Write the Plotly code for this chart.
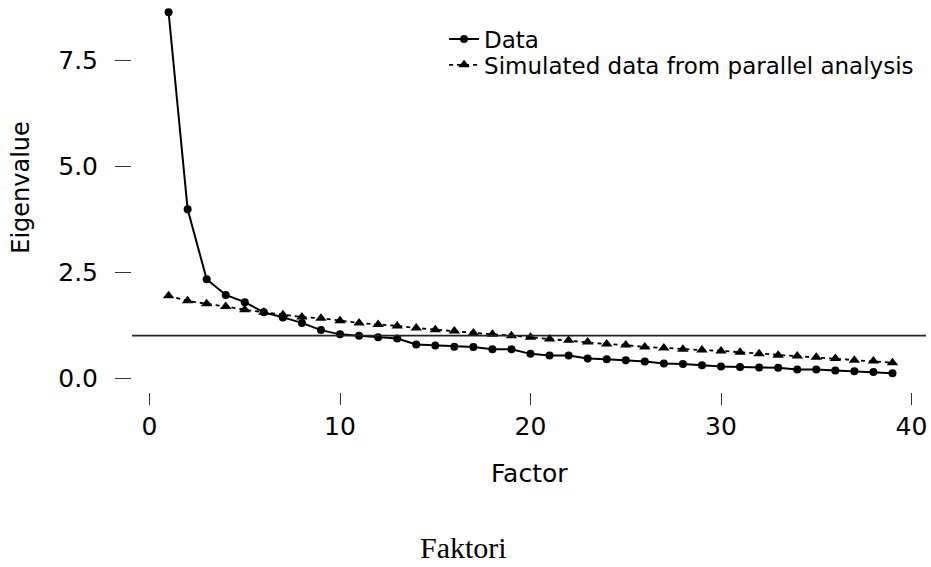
import plotly.graph_objects as go

factors = list(range(1, 40))
data_eigen = [8.63, 3.98, 2.33, 1.96, 1.79, 1.55, 1.43, 1.30, 1.13, 1.03,
              1.00, 0.96, 0.93, 0.79, 0.77, 0.74, 0.73, 0.68, 0.68, 0.57,
              0.53, 0.53, 0.46, 0.44, 0.42, 0.39, 0.34, 0.33, 0.30, 0.27,
              0.26, 0.25, 0.24, 0.20, 0.20, 0.18, 0.16, 0.14, 0.11]
sim_eigen = [1.94, 1.82, 1.75, 1.69, 1.61, 1.55, 1.49, 1.44, 1.41, 1.35,
             1.30, 1.26, 1.23, 1.18, 1.14, 1.11, 1.06, 1.03, 1.00, 0.96,
             0.92, 0.89, 0.85, 0.80, 0.78, 0.73, 0.71, 0.68, 0.66, 0.64,
             0.61, 0.57, 0.54, 0.52, 0.49, 0.46, 0.42, 0.40, 0.36]
kaiser_line = 1.0
x_ticks = [0, 10, 20, 30, 40]
y_ticks = [0.0, 2.5, 5.0, 7.5]
y_ticklabels = ["0.0", "2.5", "5.0", "7.5"]

FONT = "DejaVu Sans"

fig = go.Figure()
fig.add_trace(go.Scatter(
    x=factors, y=data_eigen, mode="lines+markers", name="Data",
    line=dict(color="black", width=2),
    marker=dict(symbol="circle", size=8, color="black"),
    cliponaxis=False, legend="legend",
))
fig.add_trace(go.Scatter(
    x=factors, y=sim_eigen, mode="lines+markers",
    name="Simulated data from parallel analysis",
    line=dict(color="black", width=1.8, dash="4px,4px"),
    marker=dict(symbol="triangle-up", size=10, color="black"),
    cliponaxis=False, legend="legend2",
))
fig.add_hline(y=kaiser_line, line=dict(color="#222222", width=1.8))

legend_common = dict(xanchor="left", yanchor="middle",
                     bgcolor="rgba(0,0,0,0)",
                     font=dict(size=23, family=FONT))

fig.update_layout(
    width=931, height=567,
    margin=dict(l=132, r=5, t=8, b=175),
    paper_bgcolor="white", plot_bgcolor="white",
    font=dict(family=FONT, color="black", size=25),
    showlegend=True,
    legend=dict(x=0.393, y=0.919, **legend_common),
    legend2=dict(x=0.393, y=0.852, **legend_common),
    xaxis=dict(range=[-0.92, 40.76], tickvals=x_ticks, showgrid=False,
               zeroline=False, showline=False, ticks="outside", ticklen=12,
               tickwidth=1.2, tickcolor="#333333",
               tickfont=dict(size=25, family=FONT)),
    yaxis=dict(range=[-0.33, 8.73], tickvals=y_ticks, ticktext=y_ticklabels,
               showgrid=False, zeroline=False, showline=False,
               ticks="outside", ticklen=16, tickwidth=1.2,
               ticklabelstandoff=12,
               tickcolor="#333333", tickfont=dict(size=25, family=FONT)),
    annotations=[
        dict(text="Eigenvalue", xref="paper", yref="paper", x=-0.14, y=0.534,
             xanchor="center", yanchor="middle", textangle=-90,
             showarrow=False, font=dict(size=24, family=FONT)),
        dict(text="Factor", xref="paper", yref="paper", x=0.501, y=-0.2135,
             xanchor="center", yanchor="middle", showarrow=False,
             font=dict(size=25, family=FONT)),
        dict(text="Faktori", xref="paper", yref="paper", x=0.417, y=-0.404,
             xanchor="center", yanchor="middle", showarrow=False,
             font=dict(size=30, family="Liberation Serif")),
    ],
)

fig.write_html(
    "out.html",
    config={"displayModeBar": False},
    post_script="document.body.style.margin='0';"
                "document.body.style.overflow='hidden';",
)
